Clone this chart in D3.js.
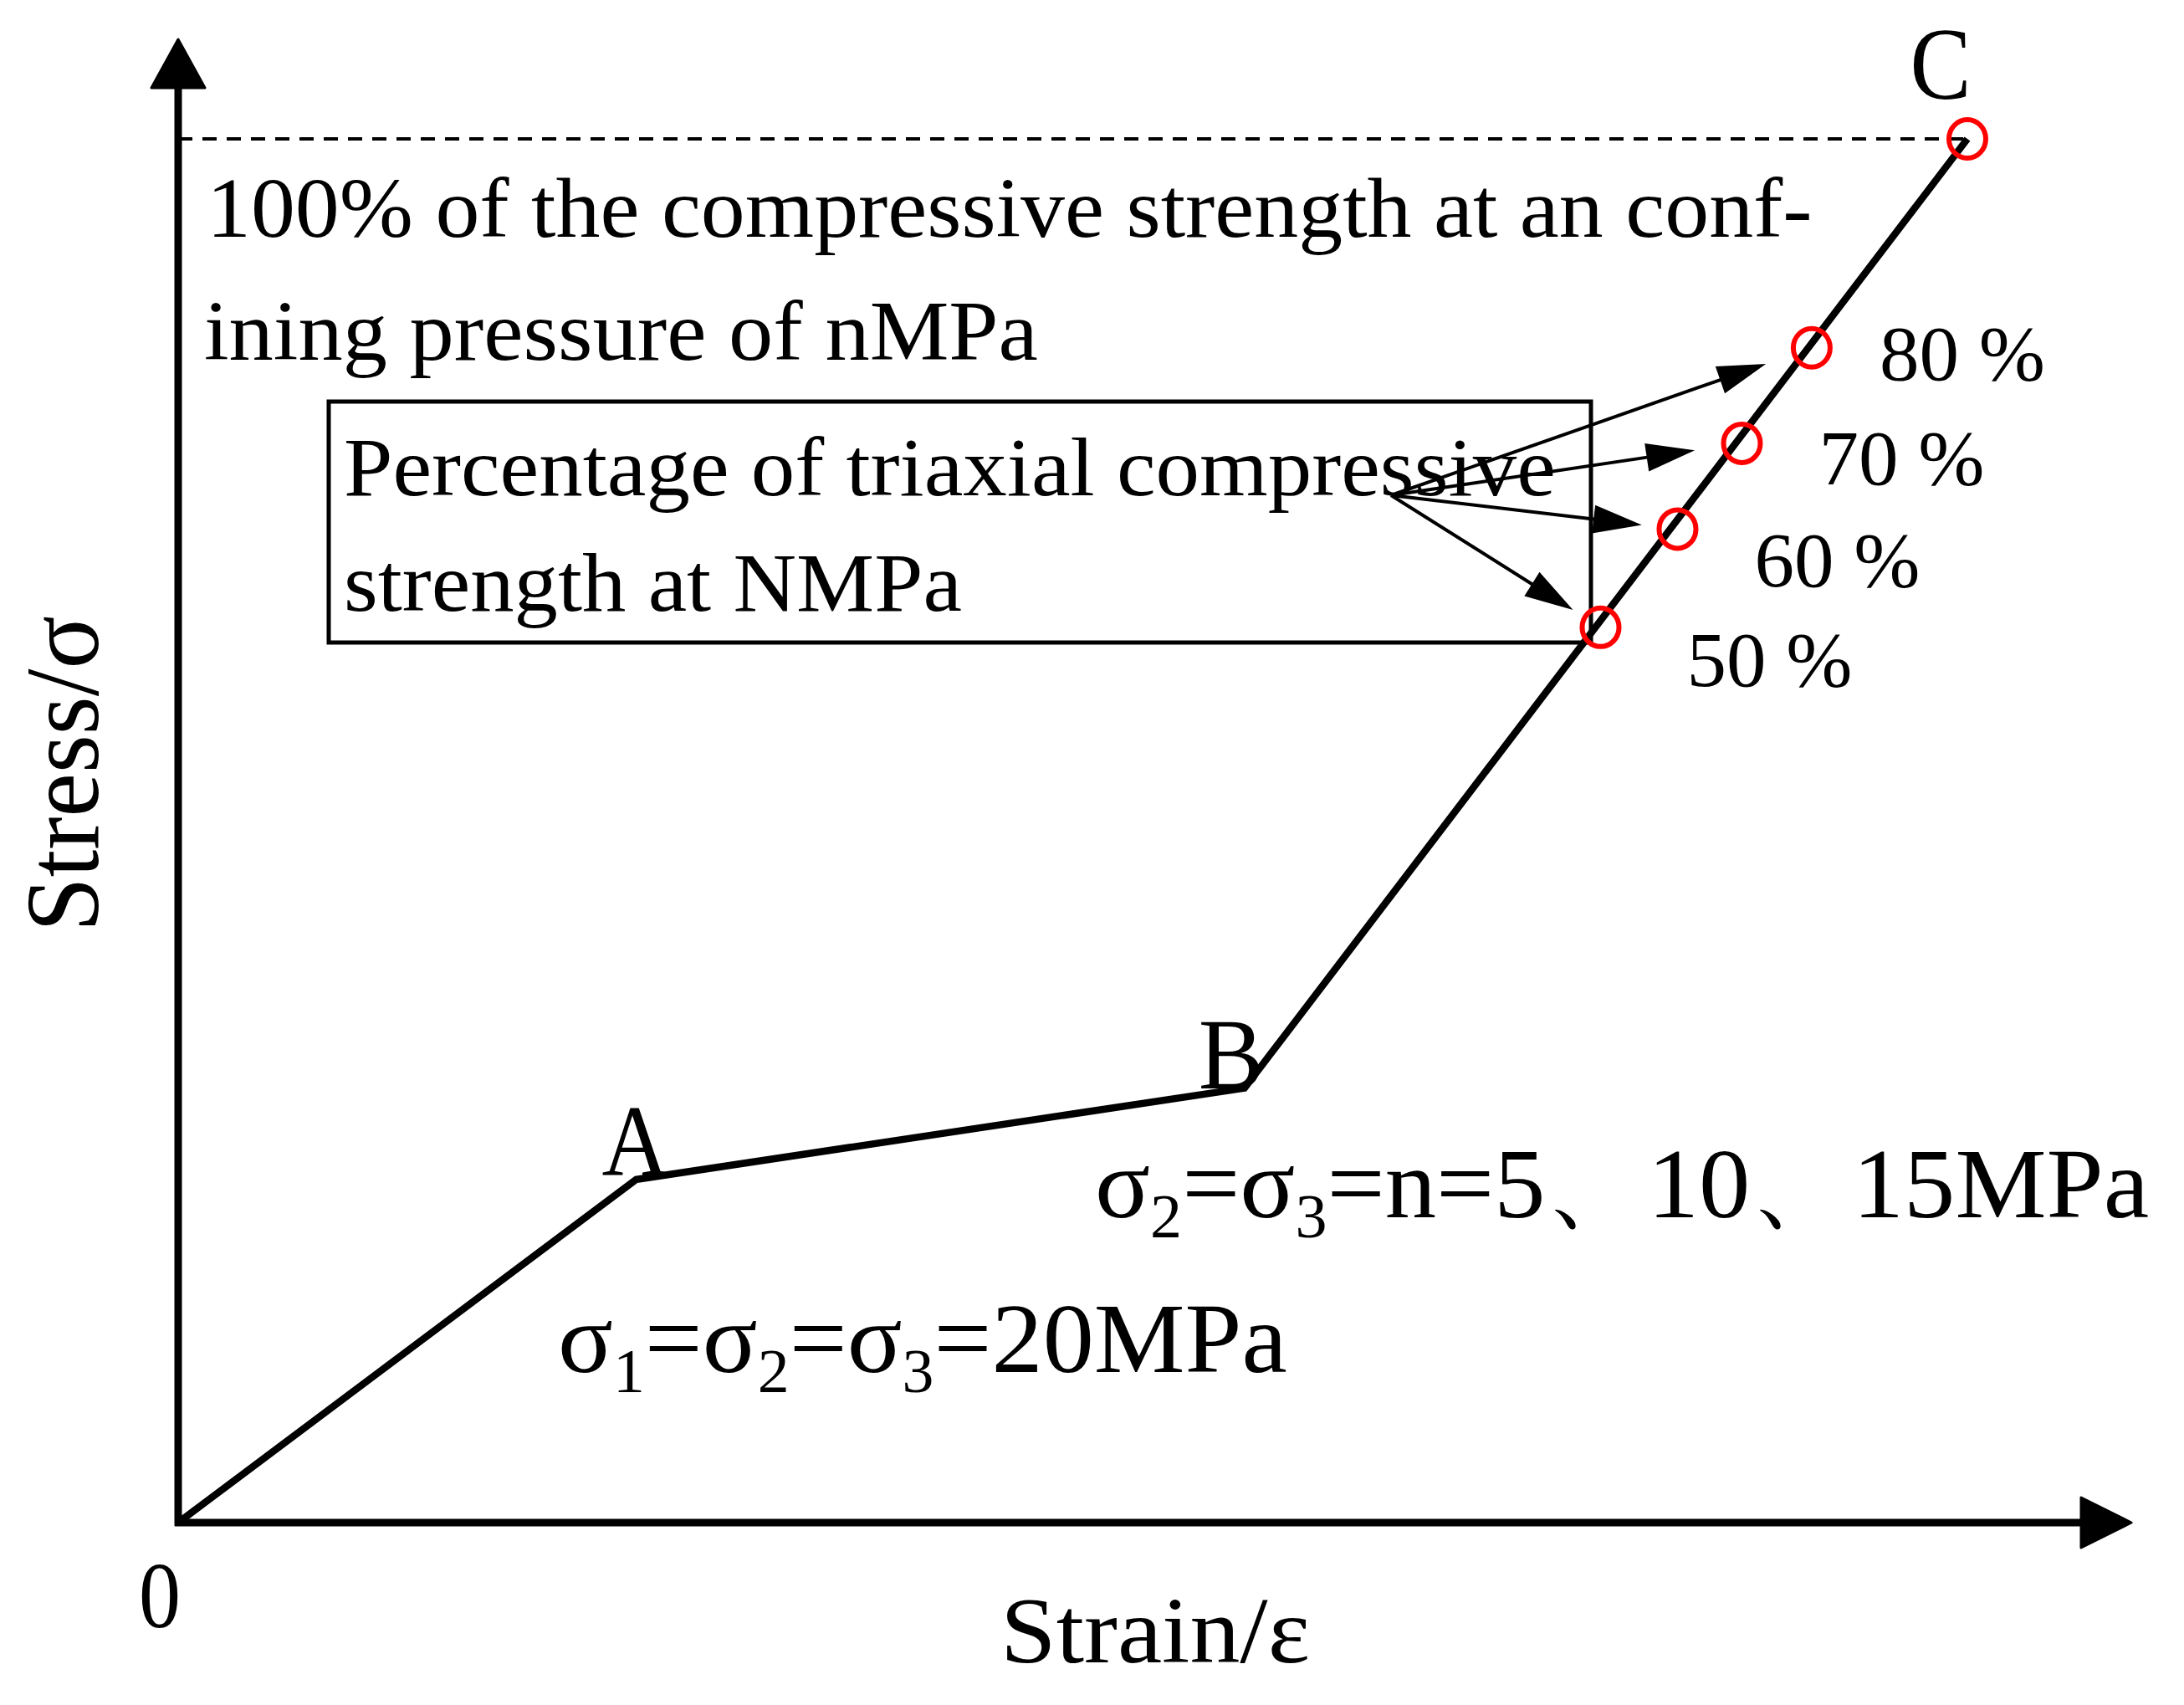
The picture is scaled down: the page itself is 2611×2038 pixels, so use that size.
<!DOCTYPE html>
<html>
<head>
<meta charset="utf-8">
<script src="https://cdn.jsdelivr.net/npm/d3@7"></script>
<style>
  html, body { margin: 0; padding: 0; background: #fff; }
  svg { display: block; }
</style>
</head>
<body>
<script>
// curve O-A-B-C (strain, stress in % of full axis)
var pointNames = ["0", "A", "B", "C"];
var strain = [0, 25.6, 59.6, 100];
var stress = [0, 24.8, 31.4, 100];

// marked stress levels on segment B-C
var levelLabels = ["50 %", "60 %", "70 %", "80 %"];
var levelStrain = [79.5, 83.8, 87.4, 91.3];
var levelStress = [64.7, 71.8, 78.0, 84.9];

var W = 2611, H = 2038;
var font = "'Liberation Serif', 'Times New Roman', serif";

var svg = d3.select("body").append("svg")
    .attr("width", W)
    .attr("height", H);

var x = d3.scaleLinear().domain([0, 100]).range([213, 2352]);
var y = d3.scaleLinear().domain([0, 100]).range([1820, 166]);

// text helper: draw at a font size, then squeeze to the width seen in the figure
function fitText(parts, fs, x0, base, width, anchor) {
    var g = svg.append("g");
    var t = g.append("text")
        .attr("font-family", font)
        .attr("font-size", fs)
        .attr("fill", "#000");
    var shift = 0;
    parts.forEach(function(p) {
        var sub = p[1] === "sub";
        var dy = sub ? fs * 0.2 - shift : -shift;
        shift = sub ? fs * 0.2 : 0;
        t.append("tspan")
            .attr("dy", dy)
            .attr("font-size", sub ? fs * 0.62 : fs)
            .text(p[0]);
    });
    var bb = t.node().getBBox();
    var sx = width / bb.width;
    var left = anchor === "middle" ? x0 - width / 2 : x0;
    g.attr("transform", "translate(" + (left - bb.x * sx) + "," + base + ") scale(" + sx + ",1)");
    return g;
}

// dashed line at peak strength
svg.append("line")
    .attr("x1", x(0)).attr("x2", x(100))
    .attr("y1", y(100)).attr("y2", y(100))
    .attr("stroke", "#000")
    .attr("stroke-width", 4)
    .attr("stroke-dasharray", "17,12");

// axes with arrow heads
svg.append("line")
    .attr("x1", x(0)).attr("y1", y(0) + 4)
    .attr("x2", x(0)).attr("y2", 100)
    .attr("stroke", "#000").attr("stroke-width", 9);
svg.append("path")
    .attr("d", "M" + x(0) + ",47 L" + (x(0) - 32) + ",105 L" + (x(0) + 32) + ",105 Z")
    .attr("fill", "#000").attr("stroke", "#000").attr("stroke-width", 3).attr("stroke-linejoin", "round");
svg.append("line")
    .attr("x1", x(0) - 4).attr("y1", y(0))
    .attr("x2", 2495).attr("y2", y(0))
    .attr("stroke", "#000").attr("stroke-width", 9);
svg.append("path")
    .attr("d", "M2548," + y(0) + " L2488," + (y(0) - 30) + " L2488," + (y(0) + 30) + " Z")
    .attr("fill", "#000").attr("stroke", "#000").attr("stroke-width", 3).attr("stroke-linejoin", "round");

// stress-strain curve
var pts = strain.map(function(d, i) { return [d, stress[i]]; });
svg.append("path")
    .datum(pts)
    .attr("d", d3.line().x(function(d) { return x(d[0]); }).y(function(d) { return y(d[1]); }))
    .attr("fill", "none")
    .attr("stroke", "#000")
    .attr("stroke-width", 8.5)
    .attr("stroke-linejoin", "miter");

// box
svg.append("rect")
    .attr("x", 393).attr("y", 480)
    .attr("width", 1509).attr("height", 288)
    .attr("fill", "none")
    .attr("stroke", "#000")
    .attr("stroke-width", 5);

// arrows from box text to the marked points
var arrowFrom = [1663, 592];
var arrowGap = [39, 43, 57, 58];
levelStrain.forEach(function(s, i) {
    var cx = x(s), cy = y(levelStress[i]);
    var dx = cx - arrowFrom[0], dy = cy - arrowFrom[1];
    var dist = Math.sqrt(dx * dx + dy * dy);
    var ux = dx / dist, uy = dy / dist;
    var tx = cx - ux * arrowGap[i], ty = cy - uy * arrowGap[i];
    var bx = tx - ux * 58, by = ty - uy * 58;
    svg.append("line")
        .attr("x1", arrowFrom[0]).attr("y1", arrowFrom[1])
        .attr("x2", bx + ux * 4).attr("y2", by + uy * 4)
        .attr("stroke", "#000").attr("stroke-width", 4);
    svg.append("path")
        .attr("d", "M" + tx + "," + ty +
            " L" + (bx - uy * 17) + "," + (by + ux * 17) +
            " L" + (bx + uy * 17) + "," + (by - ux * 17) + " Z")
        .attr("fill", "#000");
});

// red circles on level points and C
var circ = levelStrain.map(function(d, i) { return [d, levelStress[i]]; });
circ.push([strain[3], stress[3]]);
svg.selectAll("circle.mark")
    .data(circ)
    .enter()
    .append("ellipse")
    .attr("class", "mark")
    .attr("cx", function(d) { return x(d[0]); })
    .attr("cy", function(d) { return y(d[1]); })
    .attr("rx", 22)
    .attr("ry", 23)
    .attr("fill", "none")
    .attr("stroke", "#ff0000")
    .attr("stroke-width", 6);

// level labels
var labelOffset = [[103, 70], [92, 69], [92, 49], [81, 38]];
levelLabels.forEach(function(l, i) {
    fitText([[l, ""]], 94, x(levelStrain[i]) + labelOffset[i][0], y(levelStress[i]) + labelOffset[i][1], 198);
});

// point letters
fitText([["A", ""]], 120, x(strain[1]) - 1, y(stress[1]) - 5, 80, "middle");
fitText([["B", ""]], 120, x(strain[2]) - 16, y(stress[2]), 78, "middle");
fitText([["C", ""]], 122, x(strain[3]) - 32, y(stress[3]) - 48, 73, "middle");
fitText([["0", ""]], 112, 191, 1945, 50, "middle");

// annotation texts
fitText([["100% of the compressive strength at an conf-", ""]], 102, 247, 283, 1920);
fitText([["ining pressure of nMPa", ""]], 102, 244, 430, 997);
fitText([["Percentage of triaxial compressive", ""]], 99, 411, 592, 1449);
fitText([["strength at NMPa", ""]], 99, 411, 730, 739);
fitText([["σ", ""], ["2", "sub"], ["=σ", ""], ["3", "sub"], ["=n=5、10、15MPa", ""]], 118, 1309, 1455, 1261);
fitText([["σ", ""], ["1", "sub"], ["=σ", ""], ["2", "sub"], ["=σ", ""], ["3", "sub"], ["=20MPa", ""]], 118, 667, 1640, 872);

// axis titles
fitText([["Strain/ε", ""]], 112, 1381, 1987, 370, "middle");
var yt = svg.append("g").attr("transform", "translate(117,925) rotate(-90)");
var ytt = yt.append("text")
    .attr("font-family", font)
    .attr("font-size", 126)
    .attr("text-anchor", "middle")
    .text("Stress/σ");
var ybb = ytt.node().getBBox();
ytt.attr("transform", "scale(" + (378 / ybb.width) + ",1)");
</script>
</body>
</html>
